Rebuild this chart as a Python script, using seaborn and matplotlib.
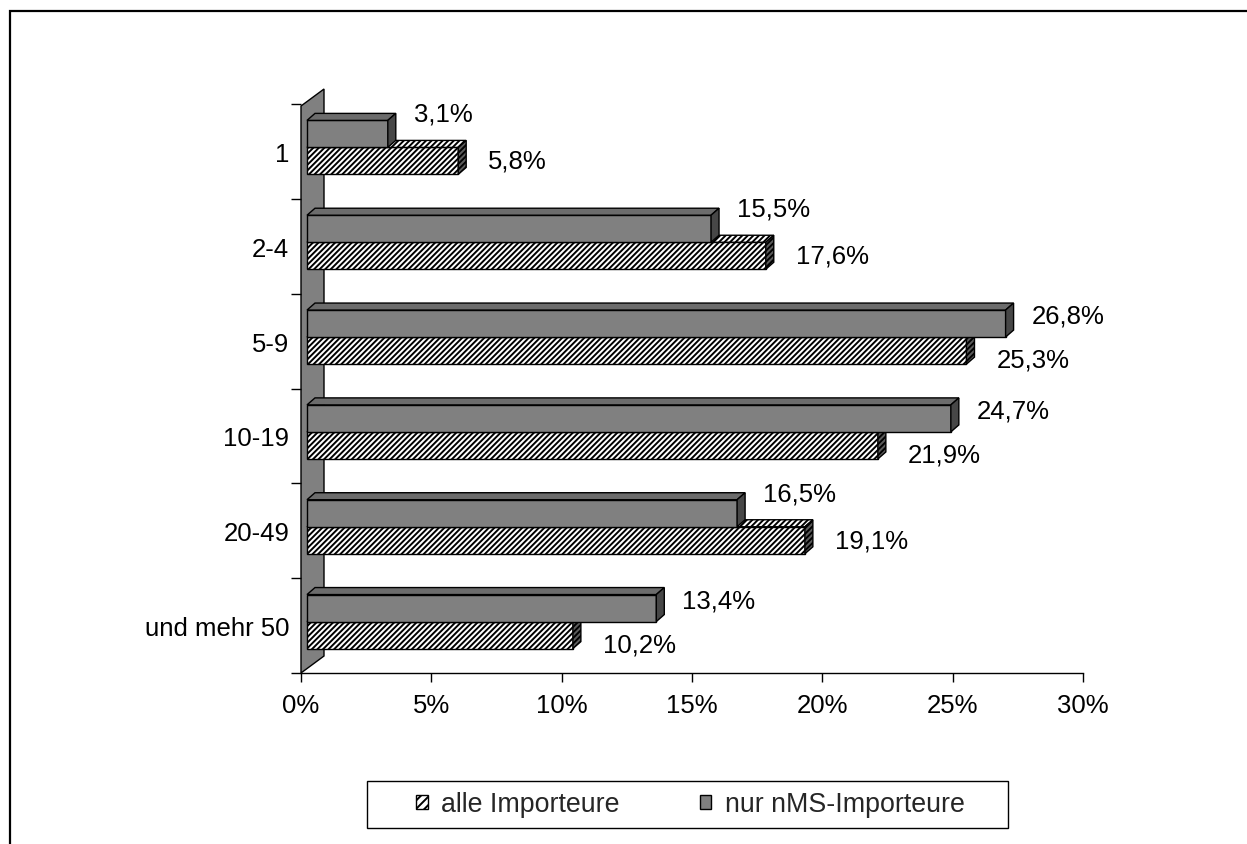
import numpy as np
import pandas as pd
import matplotlib
matplotlib.use("Agg")
import matplotlib.pyplot as plt
import seaborn as sns
from matplotlib.patches import Polygon, Patch, Rectangle
from matplotlib.lines import Line2D
from matplotlib.ticker import NullLocator
from matplotlib.transforms import ScaledTranslation, IdentityTransform

# --- data -----------------------------------------------------------------
categories = ["1", "2-4", "5-9", "10-19", "20-49", "und mehr 50"]
alle_importeure = [5.8, 17.6, 25.3, 21.9, 19.1, 10.2]
nur_nms_importeure = [3.1, 15.5, 26.8, 24.7, 16.5, 13.4]
series_names = ["alle Importeure", "nur nMS-Importeure"]
x_ticks = [0, 5, 10, 15, 20, 25, 30]

# --- style ----------------------------------------------------------------
sns.set_theme(style="white")
plt.rcParams["font.family"] = ["Liberation Sans", "DejaVu Sans"]
plt.rcParams["hatch.linewidth"] = 1.4
FS = 18.5
LEGEND_FS = 19.3
DARK = "#808080"
HATCH = "//////"

W, H = 1247, 845
DPI = 100
fig = plt.figure(figsize=(W / DPI, H / DPI), dpi=DPI)
fig.patch.set_facecolor("white")
ax = fig.add_axes([301 / W, 1 - 674 / H, 782 / W, 569 / H])
ax.set_facecolor("none")

df = pd.DataFrame({
    "category": categories * 2,
    "value": nur_nms_importeure + alle_importeure,
    "series": [series_names[1]] * len(categories) + [series_names[0]] * len(categories),
})
hue_order = [series_names[1], series_names[0]]
sns.barplot(
    data=df, x="value", y="category", hue="series", hue_order=hue_order,
    order=categories, orient="h", width=0.57,
    palette={series_names[1]: DARK, series_names[0]: "white"},
    saturation=1, errorbar=None, legend=False,
    edgecolor="black", linewidth=1, ax=ax,
)

# --- axes -----------------------------------------------------------------
ax.set_xlim(0, 30)
ax.set_ylim(len(categories) - 0.5, -0.5)
ax.set_xlabel("")
ax.set_ylabel("")
ax.set_xticks(x_ticks)
ax.set_xticklabels([f"{t}%" for t in x_ticks])
ax.xaxis.set_minor_locator(NullLocator())
ax.set_yticks(range(len(categories)))
ax.set_yticklabels(categories)
ax.set_yticks(np.arange(-0.5, len(categories), 1), minor=True)
ax.tick_params(axis="y", which="major", length=0, pad=8.5, labelsize=FS,
               labelcolor="black", left=True)
ax.tick_params(axis="y", which="minor", length=7.2, width=1, color="black",
               direction="out", left=True)
ax.tick_params(axis="x", which="major", length=6.5, width=1, color="black",
               direction="out", pad=8, labelsize=FS, labelcolor="black",
               bottom=True)
for side in ("top", "right", "left"):
    ax.spines[side].set_visible(False)
ax.spines["bottom"].set_color("black")
ax.spines["bottom"].set_linewidth(1)
ax.spines["bottom"].set_zorder(5)

# --- 3D wall on the category axis -----------------------------------------
wall_dx, wall_dy = 23, 17
(wl, wb), (_, wt) = ax.transAxes.transform([(0, 0), (0, 1)])
wt -= 2
wall = Polygon([(wl, wb), (wl, wt), (wl + wall_dx, wt + wall_dy), (wl + wall_dx, wb + wall_dy)],
               closed=True, transform=IdentityTransform(), facecolor=DARK,
               edgecolor="black", linewidth=1, zorder=0.5, clip_on=False)
ax.add_patch(wall)

# --- 3D bars: shift front faces back into the depth, add top and side faces -
shift_px = (6, 4)
depth_px = (8, 7)
shift = ScaledTranslation(shift_px[0] / DPI, shift_px[1] / DPI, fig.dpi_scale_trans)

face_styles = {
    series_names[1]: dict(front=DARK, top="#6c6c6c", side="#474747", hatch=None, z=3),
    series_names[0]: dict(front="white", top="white", side="#5c5c5c", hatch=HATCH, z=2),
}

bar_centers = {}
for container in ax.containers:
    first = container.patches[0]
    name = series_names[0] if first.get_facecolor()[0] > 0.9 else series_names[1]
    st = face_styles[name]
    centers = []
    for bar in container.patches:
        bar.set_transform(ax.transData + shift)
        bar.set_zorder(st["z"])
        bar.set_edgecolor("black")
        bar.set_linewidth(1)
        if st["hatch"]:
            bar.set_hatch(st["hatch"])
        x0, y0 = bar.get_x(), bar.get_y()
        x1, y1 = x0 + bar.get_width(), y0 + bar.get_height()
        (px0, py0), (px1, py1) = ax.transData.transform([(x0, y0), (x1, y1)])
        left, right = min(px0, px1) + shift_px[0], max(px0, px1) + shift_px[0]
        bottom, top = min(py0, py1) + shift_px[1], max(py0, py1) + shift_px[1]
        ddx, ddy = depth_px
        top_face = Polygon([(left, top), (right, top), (right + ddx, top + ddy), (left + ddx, top + ddy)],
                           closed=True, transform=IdentityTransform(), facecolor=st["top"],
                           edgecolor="black", linewidth=1, hatch=st["hatch"],
                           zorder=st["z"], clip_on=False)
        side_face = Polygon([(right, bottom), (right, top), (right + ddx, top + ddy), (right + ddx, bottom + ddy)],
                            closed=True, transform=IdentityTransform(), facecolor=st["side"],
                            edgecolor="black", linewidth=1, hatch=st["hatch"],
                            zorder=st["z"], clip_on=False)
        ax.add_patch(top_face)
        ax.add_patch(side_face)
        centers.append(y0 + bar.get_height() / 2)
    bar_centers[name] = centers

# --- value labels ---------------------------------------------------------
def fmt(v):
    return f"{v:.1f}".replace(".", ",") + "%"

for i in range(len(categories)):
    d, a = nur_nms_importeure[i], alle_importeure[i]
    dark_up = 20 if d < a else 8
    light_down = 0 if a > d else 9
    ax.annotate(fmt(d), xy=(d, bar_centers[series_names[1]][i]),
                xytext=(32, shift_px[1] + dark_up), textcoords="offset pixels",
                ha="left", va="center", fontsize=FS, color="black", zorder=6,
                annotation_clip=False)
    ax.annotate(fmt(a), xy=(a, bar_centers[series_names[0]][i]),
                xytext=(36, shift_px[1] - light_down), textcoords="offset pixels",
                ha="left", va="center", fontsize=FS, color="black", zorder=6,
                annotation_clip=False)

# --- legend ---------------------------------------------------------------
lx0, lx1, ly0, ly1 = 367, 1008, 782, 829
fig.add_artist(Rectangle((lx0 / W, 1 - ly1 / H), (lx1 - lx0) / W, (ly1 - ly0) / H,
                         transform=fig.transFigure, fill=False,
                         edgecolor="black", linewidth=1))
handles = [
    Patch(facecolor="white", edgecolor="black", hatch="////", linewidth=1),
    Patch(facecolor=DARK, edgecolor="black", linewidth=1),
]
fig.legend(handles, series_names, loc="center",
           bbox_to_anchor=((lx0 + lx1) / 2 / W + 3 / W, 1 - (ly0 + ly1) / 2 / H),
           ncol=2, frameon=False, fontsize=LEGEND_FS, handlelength=0.42,
           handleheight=0.42, handletextpad=0.5, columnspacing=3.0,
           borderpad=0.2)

# --- outer chart border ---------------------------------------------------
bx, by = 10.2 / W, 1 - 12 / H
fig.add_artist(Line2D([bx, bx, 1.02], [-0.02, by, by], transform=fig.transFigure,
                      color="black", linewidth=1.6, solid_joinstyle="miter"))

fig.savefig("out.png", dpi=DPI, facecolor="white")
